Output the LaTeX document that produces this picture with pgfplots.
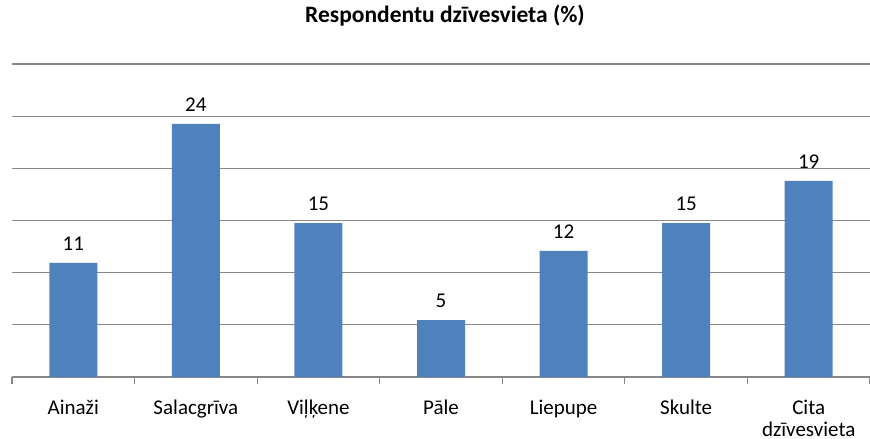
\documentclass[border=0pt]{standalone}
\usepackage{pgfplots}
\pgfplotsset{compat=1.18}
\usepackage{fontspec}
\setmainfont{Carlito}
\definecolor{barblue}{HTML}{4F81BD}
\definecolor{gridgray}{HTML}{878787}
\newcommand\citalabel{\vtop{\baselineskip=22pt\hbox to 0pt{\hss Cita\hss}\hbox to 0pt{\hss dzīvesvieta\hss}}}
\begin{document}
\begin{tikzpicture}
\path[use as bounding box] (-12pt,-62pt) rectangle (858pt,377pt);
\begin{axis}[
  at={(0,0)}, anchor=south west,
  scale only axis, width=858pt, height=313pt,
  xmin=-0.5, xmax=6.5, ymin=0, ymax=30,
  axis lines*=left,
  axis line style={draw=gridgray, line width=1.2pt},
  y axis line style={draw=none},
  ytick={5,10,...,30}, yticklabels={},
  major y tick style={draw=none},
  ymajorgrids,
  grid style={draw=gridgray, line width=1.2pt},
  xtick={0,...,6},
  major x tick style={draw=none},
  xticklabels={Ainaži, Salacgrīva, Viļķene, Pāle, Liepupe, Skulte, \citalabel},
  xticklabel style={font=\fontsize{21}{23}\selectfont, anchor=base, inner sep=0pt, yshift=-33.5pt},
  extra x ticks={-0.5,0.5,...,6.5},
  extra x tick labels={},
  extra x tick style={major tick length=7pt, tick align=outside, major x tick style={draw=gridgray, line width=1.2pt}},
  ybar, bar width=48pt,
  bar shift=0pt,
  title={\textbf{Respondentu dzīvesvieta (\%)}},
  title style={font=\fontsize{23.5}{27}\selectfont, anchor=base, at={(0.5,1)}, yshift=36pt, xshift=4pt},
  point meta=explicit symbolic,
  nodes near coords,
  every node near coord/.append style={font=\fontsize{21}{25}\selectfont, yshift=9pt, text=black},
]
\addplot[fill=barblue, draw=none] coordinates {
  (0,10.93) [11]
  (1,24.25) [24]
  (2,14.76) [15]
  (3,5.46) [5]
  (4,12.08) [12]
  (5,14.76) [15]
  (6,18.79) [19]
};
\end{axis}
\end{tikzpicture}
\end{document}
